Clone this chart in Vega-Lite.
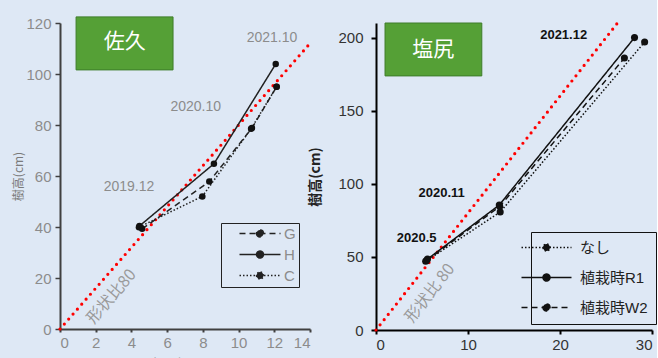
{
  "$schema": "https://vega.github.io/schema/vega-lite/v6.json",
  "background": "#dee8f5",
  "padding": {"left": 12, "top": 16, "right": 0, "bottom": 0},
  "autosize": {"type": "pad"},
  "bounds": "flush",
  "spacing": 66,
  "resolve": {"scale": {"strokeDash": "independent"}, "legend": {"strokeDash": "independent"}},
  "config": {
    "view": {"stroke": null},
    "font": "Liberation Sans, Noto Sans CJK JP, sans-serif",
    "axis": {"grid": false, "labelFont": "Liberation Sans, sans-serif", "titleFont": "Noto Sans CJK JP, sans-serif"}
  },
  "datasets": {
    "saku_box": [{"x": 0.9, "x2": 6.33, "y": 122.4, "y2": 101.6}],
    "saku_title": [{"x": 3.62, "y": 112.4, "label": "佐久"}],
    "saku_ref": [{"x": 0, "y": 0}, {"x": 14, "y": 112}],
    "saku_series": [
      {"series": "G", "x": 4.6, "y": 39.3}, {"series": "G", "x": 8.36, "y": 57.8}, {"series": "G", "x": 10.75, "y": 78.8}, {"series": "G", "x": 12.13, "y": 95},
      {"series": "H", "x": 4.45, "y": 40.4}, {"series": "H", "x": 8.62, "y": 64.8}, {"series": "H", "x": 12.08, "y": 103.9},
      {"series": "C", "x": 4.42, "y": 39.9}, {"series": "C", "x": 7.97, "y": 52}, {"series": "C", "x": 10.7, "y": 78.5}, {"series": "C", "x": 12.13, "y": 95}
    ],
    "saku_dates": [{"x": 3.86, "y": 55.7, "label": "2019.12"}, {"x": 7.6, "y": 87, "label": "2020.10"}, {"x": 11.87, "y": 114, "label": "2021.10"}],
    "saku_ratio": [{"x": 2.88, "y": 12.7, "label": "形状比80"}],
    "shio_box": [{"x": 0.98, "x2": 11.5, "y": 210, "y2": 173.8}],
    "shio_title": [{"x": 6.23, "y": 191.5, "label": "塩尻"}],
    "shio_ref": [{"x": 0, "y": 0}, {"x": 26.25, "y": 210}],
    "shio_series": [
      {"series": "なし", "x": 5.4, "y": 47}, {"series": "なし", "x": 13.5, "y": 80.7}, {"series": "なし", "x": 29.2, "y": 197},
      {"series": "植栽時R1", "x": 5.6, "y": 48.5}, {"series": "植栽時R1", "x": 13.4, "y": 85.5}, {"series": "植栽時R1", "x": 28.1, "y": 200},
      {"series": "植栽時W2", "x": 5.5, "y": 47.5}, {"series": "植栽時W2", "x": 13.45, "y": 84.5}, {"series": "植栽時W2", "x": 27, "y": 186}
    ],
    "shio_dates": [{"x": 4.42, "y": 63.2, "label": "2020.5"}, {"x": 7.14, "y": 93.9, "label": "2020.11"}, {"x": 20.4, "y": 201.8, "label": "2021.12"}],
    "shio_ratio": [{"x": 5.87, "y": 25.2, "label": "形状比 80"}]
  },
  "hconcat": [
    {
      "width": 250,
      "height": 306,
      "encoding": {
        "x": {"field": "x", "type": "quantitative", "scale": {"domain": [0, 14], "nice": false},
          "axis": {"values": [0, 2, 4, 6, 8, 10, 12, 14], "labelColor": "#8c8c8c", "labelFontSize": 15, "labelPadding": 3, "tickSize": 3, "tickColor": "#404040", "domainColor": "#404040", "domainWidth": 2, "tickWidth": 2, "title": "根元径(mm)", "titleColor": "#8c8c8c", "titleFontSize": 12, "titleFontWeight": "normal", "titlePadding": 8}},
        "y": {"field": "y", "type": "quantitative", "scale": {"domain": [0, 120], "nice": false},
          "axis": {"values": [0, 20, 40, 60, 80, 100, 120], "labelColor": "#8c8c8c", "labelFontSize": 15, "labelPadding": 4, "tickSize": 5, "tickColor": "#404040", "domainColor": "#404040", "domainWidth": 2, "tickWidth": 1.5, "minExtent": 32, "maxExtent": 32, "title": "樹高(cm)", "titleColor": "#7a7a7a", "titleFontSize": 12, "titleFontWeight": "normal", "titlePadding": 3}}
      },
      "layer": [
        {"data": {"name": "saku_box"}, "mark": {"type": "rect", "fill": "#55a036", "stroke": "#3e7d2a", "strokeWidth": 1}, "encoding": {"x2": {"field": "x2"}, "y2": {"field": "y2"}}},
        {"data": {"name": "saku_title"}, "mark": {"type": "text", "color": "#ffffff", "fontSize": 21, "font": "Noto Sans CJK JP"}, "encoding": {"text": {"field": "label"}}},
        {"data": {"name": "saku_ref"}, "mark": {"type": "line", "color": "#ff0000", "strokeWidth": 3.2, "strokeCap": "round", "strokeDash": [0, 6.6]}},
        {"data": {"name": "saku_series"}, "mark": {"type": "line", "color": "#222222", "strokeWidth": 1.5},
          "encoding": {"strokeDash": {"field": "series", "type": "nominal", "scale": {"domain": ["G", "H", "C"], "range": [[6, 4], [1, 0], [1.5, 2]]},
            "legend": {"orient": "none", "legendX": 161, "legendY": 200, "title": null, "strokeColor": "#222222", "padding": 3, "rowPadding": 5,
              "symbolType": "M-4.1,0H4.1M-0.7,0a0.7,0.7 0 1,0 1.4,0a0.7,0.7 0 1,0 -1.4,0", "symbolSize": 100, "symbolOffset": 28.5, "symbolStrokeColor": "#222222", "symbolFillColor": "#222222", "symbolStrokeWidth": 1.5,
              "labelFontSize": 15, "labelColor": "#8c8c8c", "labelOffset": 16.5}}}},
        {"data": {"name": "saku_series"}, "mark": {"type": "point", "filled": true, "shape": "circle", "size": 42, "color": "#111111", "opacity": 1}},
        {"data": {"name": "saku_dates"}, "mark": {"type": "text", "color": "#8c8c8c", "fontSize": 14}, "encoding": {"text": {"field": "label"}}},
        {"data": {"name": "saku_ratio"}, "mark": {"type": "text", "color": "#9a9a9a", "fontSize": 16, "angle": 311, "font": "Noto Sans CJK JP"}, "encoding": {"text": {"field": "label"}}}
      ]
    },
    {
      "width": 276,
      "height": 307,
      "encoding": {
        "x": {"field": "x", "type": "quantitative", "scale": {"domain": [0, 30], "nice": false},
          "axis": {"values": [0, 10, 20, 30], "labelColor": "#333333", "labelFontSize": 15, "labelPadding": 3, "tickSize": 4, "tickColor": "#000000", "domainColor": "#000000", "domainWidth": 2, "tickWidth": 2, "title": null}},
        "y": {"field": "y", "type": "quantitative", "scale": {"domain": [0, 210], "nice": false},
          "axis": {"values": [0, 50, 100, 150, 200], "labelColor": "#333333", "labelFontSize": 15, "labelPadding": 8, "tickSize": 5, "tickColor": "#000000", "domainColor": "#000000", "domainWidth": 2, "tickWidth": 2, "minExtent": 36, "maxExtent": 36, "title": "樹高(cm)", "titleColor": "#222222", "titleFontSize": 14, "titleFontWeight": "bold", "titlePadding": 18}}
      },
      "layer": [
        {"data": {"name": "shio_box"}, "mark": {"type": "rect", "fill": "#55a036", "stroke": "#3e7d2a", "strokeWidth": 1}, "encoding": {"x2": {"field": "x2"}, "y2": {"field": "y2"}}},
        {"data": {"name": "shio_title"}, "mark": {"type": "text", "color": "#ffffff", "fontSize": 21, "font": "Noto Sans CJK JP"}, "encoding": {"text": {"field": "label"}}},
        {"data": {"name": "shio_ref"}, "mark": {"type": "line", "color": "#ff0000", "strokeWidth": 3.2, "strokeCap": "round", "strokeDash": [0, 6.6]}},
        {"data": {"name": "shio_series"}, "mark": {"type": "line", "color": "#111111", "strokeWidth": 1.5},
          "encoding": {"strokeDash": {"field": "series", "type": "nominal", "scale": {"domain": ["なし", "植栽時R1", "植栽時W2"], "range": [[1.5, 2], [1, 0], [6, 4]]},
            "legend": {"orient": "none", "legendX": 155, "legendY": 209, "title": null, "strokeColor": "#111111", "padding": 8, "rowPadding": 14,
              "symbolType": "M-5,0H5M-0.7,0a0.7,0.7 0 1,0 1.4,0a0.7,0.7 0 1,0 -1.4,0", "symbolSize": 100, "symbolStrokeColor": "#111111", "symbolFillColor": "#111111", "symbolStrokeWidth": 1.5,
              "labelFontSize": 15, "labelColor": "#222222", "labelOffset": 26, "labelFont": "Liberation Sans, Noto Sans CJK JP, sans-serif"}}}},
        {"data": {"name": "shio_series"}, "mark": {"type": "point", "filled": true, "shape": "circle", "size": 50, "color": "#111111", "opacity": 1}},
        {"data": {"name": "shio_dates"}, "mark": {"type": "text", "color": "#111111", "fontSize": 13, "fontWeight": "bold"}, "encoding": {"text": {"field": "label"}}},
        {"data": {"name": "shio_ratio"}, "mark": {"type": "text", "color": "#9a9a9a", "fontSize": 16, "angle": 308, "font": "Noto Sans CJK JP"}, "encoding": {"text": {"field": "label"}}}
      ]
    }
  ]
}
